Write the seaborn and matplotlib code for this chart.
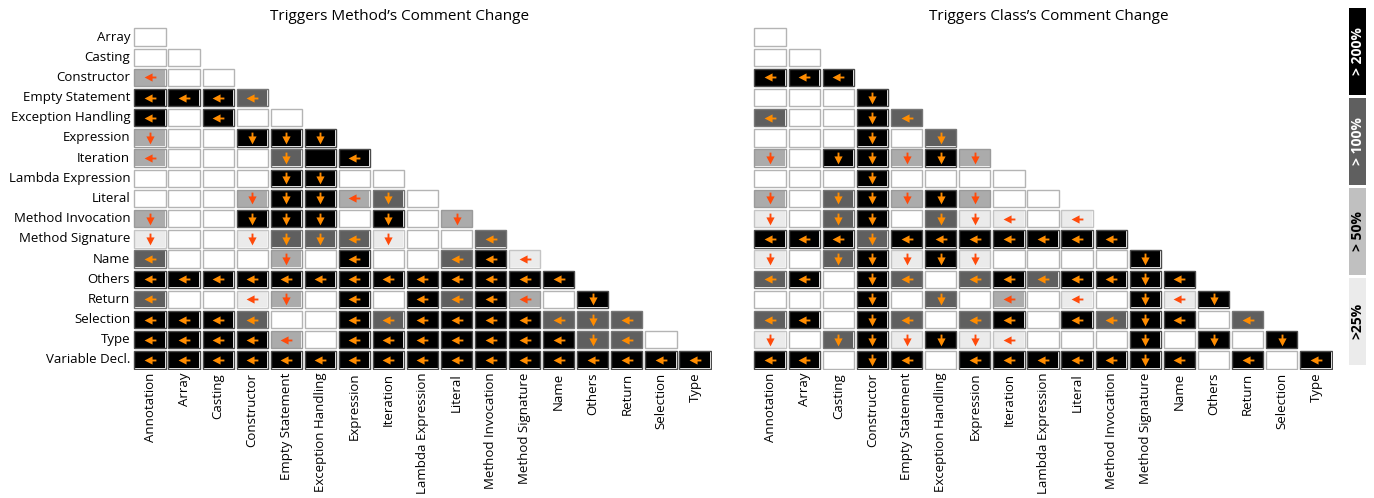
import numpy as np
import pandas as pd
import seaborn as sns
import matplotlib
matplotlib.use("Agg")
import matplotlib.pyplot as plt
from matplotlib.colors import ListedColormap
from matplotlib.patches import Rectangle
from matplotlib.path import Path
from matplotlib.markers import MarkerStyle

row_labels = ["Array", "Casting", "Constructor", "Empty Statement", "Exception Handling",
              "Expression", "Iteration", "Lambda Expression", "Literal", "Method Invocation",
              "Method Signature", "Name", "Others", "Return", "Selection", "Type",
              "Variable Decl."]
col_labels = ["Annotation", "Array", "Casting", "Constructor", "Empty Statement",
              "Exception Handling", "Expression", "Iteration", "Lambda Expression",
              "Literal", "Method Invocation", "Method Signature", "Name", "Others",
              "Return", "Selection", "Type"]

# level 0..4 (none, >25%, >50%, >100%, >200%) + arrow (L = row side, D = column side)
method_cells = [
    "0",
    "0 0",
    "2L 0 0",
    "4L 4L 4L 3L",
    "4L 0 4L 0 0",
    "2D 0 0 4D 4D 4D",
    "2L 0 0 0 3D 4 4L",
    "0 0 0 0 4D 4D 0 0",
    "0 0 0 2D 4D 4D 2L 3D 0",
    "2D 0 0 4D 4D 4D 0 4D 0 2D",
    "1D 0 0 1D 3D 3D 3L 1D 0 0 3L",
    "3L 0 0 0 2D 0 4L 0 0 3L 4L 1L",
    "4L 4L 4L 4L 4L 4L 4L 4L 4L 4L 4L 4L 4L",
    "3L 0 0 1L 2D 0 4L 0 4L 3L 4L 2L 0 4D",
    "4L 4L 4L 3L 0 0 4L 3L 4L 4L 4L 4L 3L 3D 3L",
    "4L 4L 4L 4L 2L 0 4L 4L 4L 4L 4L 4L 4L 3D 3L 0",
    "4L 4L 4L 4L 4L 4L 4L 4L 4L 4L 4L 4L 4L 4L 4L 4L 4L",
]
class_cells = [
    "0",
    "0 0",
    "4L 4L 4L",
    "0 0 0 4D",
    "3L 0 0 4D 3L",
    "0 0 0 4D 0 3D",
    "2D 0 4D 4D 2D 4D 2D",
    "0 0 0 4D 0 0 0 0",
    "2D 0 3D 4D 2D 4D 2D 0 0",
    "1D 0 3D 4D 0 3D 1D 1L 0 1L",
    "4L 4L 4L 3D 4L 4L 4L 4L 4L 4L 4L",
    "1D 0 3D 4D 1D 4D 1D 0 0 0 0 4D",
    "3L 4L 0 4D 3L 0 3L 4L 3L 4L 4L 4D 4L",
    "0 0 0 4D 0 3D 0 2L 0 1L 0 4D 1L 4D",
    "3L 4L 0 4D 3L 0 3L 4L 0 4L 3L 4D 4L 0 3L",
    "1D 0 3D 4D 1D 4D 1D 1L 0 0 0 4D 0 4D 0 4D",
    "4L 4L 0 4D 4L 0 4L 4L 4L 4L 4L 4D 4L 0 4L 0 4L",
]
titles = ["Triggers Method\u2019s Comment Change", "Triggers Class\u2019s Comment Change"]
legend_labels = ["> 200%", "> 100%", "> 50%", ">25%"]

level_colors = ["#ffffff", "#ebebeb", "#ababab", "#5f5f5f", "#000000"]
edge_colors = ["#b4b4b4", "#c4c4c4", "#9a9a9a", "#777777", "#4a4a4a"]
legend_colors = ["#000000", "#5f5f5f", "#c0c0c0", "#ebebeb"]
legend_text = ["white", "white", "black", "black"]
arrow_colors = {1: "#ff4a0a", 2: "#ff4a0a", 3: "#ff8c00", 4: "#ff8c00"}

plt.rcParams["font.family"] = ["Open Sans", "DejaVu Sans"]

def parse(rows):
    n, m = len(row_labels), len(col_labels)
    lev = np.full((n, m), np.nan)
    arr = np.full((n, m), "", dtype=object)
    for i, r in enumerate(rows):
        for j, code in enumerate(r.split()):
            lev[i, j] = int(code[0])
            arr[i, j] = code[1:]
    return lev, arr

left_verts = [(-1, 0), (0.35, 0.7), (0.35, 0.16), (1, 0.16), (1, -0.16),
              (0.35, -0.16), (0.35, -0.7), (-1, 0)]
left_marker = MarkerStyle(Path(left_verts, closed=True))
down_marker = MarkerStyle(Path([(y, x) for x, y in left_verts], closed=True))

fig = plt.figure(figsize=(13.74, 4.98), dpi=100)
W, H = 1374, 498
ax_boxes = [(133, 27, 579, 343), (753, 27, 580, 343)]
title_x = [0.461, 0.51]

for k, (cells, box) in enumerate(zip([method_cells, class_cells], ax_boxes)):
    x0, y0, w, h = box
    ax = fig.add_axes([x0 / W, 1 - (y0 + h) / H, w / W, h / H])
    lev, arr = parse(cells)
    df = pd.DataFrame(lev, index=row_labels, columns=col_labels)
    sns.heatmap(df, ax=ax, cmap=ListedColormap(level_colors), vmin=-0.5, vmax=4.5,
                cbar=False, mask=np.isnan(lev), linewidths=2.6, linecolor="white",
                square=False, yticklabels=(k == 0))
    gx, gy = 1.4 / (w / 17), 1.4 / (h / 17)
    for i in range(lev.shape[0]):
        for j in range(lev.shape[1]):
            if np.isnan(lev[i, j]):
                continue
            L = int(lev[i, j])
            ax.add_patch(Rectangle((j + gx, i + gy), 1 - 2 * gx, 1 - 2 * gy,
                                   facecolor="none", edgecolor=edge_colors[L], lw=1.0))
            if arr[i, j]:
                mk = left_marker if arr[i, j] == "L" else down_marker
                ax.scatter([j + 0.5], [i + 0.5], marker=mk, s=72,
                           color=arrow_colors[L], linewidths=0, zorder=5)
    ax.tick_params(length=0, labelsize=9.5, pad=2)
    ax.set_xticklabels(col_labels, rotation=90)
    if k == 0:
        ax.set_yticklabels(row_labels, rotation=0)
    ax.set_xlabel("")
    ax.set_ylabel("")
    ax.set_title(titles[k], fontsize=11, x=title_x[k], pad=5)

# legend bar
lax = fig.add_axes([1349 / W, 1 - 368 / H, 17 / W, 360 / H])
for i, (lab, c, tc) in enumerate(zip(legend_labels, legend_colors, legend_text)):
    lax.bar(0, 0.965, bottom=3 - i + 0.035, width=1, color=c, align="edge")
    lax.text(0.5, 3 - i + 0.52, lab, rotation=90, ha="center", va="center",
             color=tc, fontsize=10, fontweight="bold")
lax.set_xlim(0, 1)
lax.set_ylim(0, 4)
lax.axis("off")

fig.savefig("out.png", dpi=100)
